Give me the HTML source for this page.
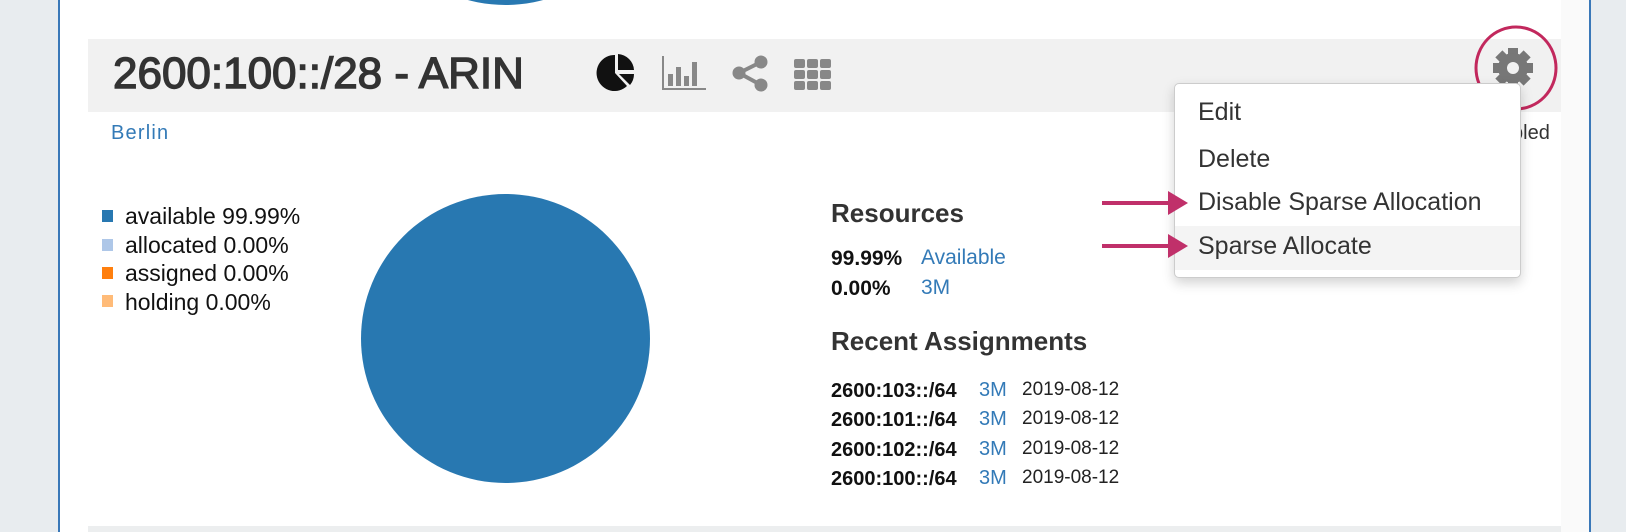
<!DOCTYPE html>
<html><head><meta charset="utf-8"><style>
*{margin:0;padding:0;box-sizing:border-box}
body{width:1626px;height:532px;overflow:hidden;background:#e8ecef;font-family:"Liberation Sans",Arial,sans-serif;position:relative}
.a{position:absolute;white-space:nowrap}
.blue{color:#337ab7}
</style></head><body>
<div class="a" style="left:58px;top:0;width:1533px;height:532px;background:#fff;border-left:2px solid #3a78b8;border-right:2px solid #3a78b8"></div>
<div class="a" style="left:88px;top:0;width:1473px;height:526px;background:#fff"></div>
<div class="a" style="left:88px;top:526px;width:1473px;height:6px;background:#eceeef"></div>
<div class="a" style="left:1561px;top:0;width:28px;height:532px;background:#fafafa"></div>
<div class="a" style="left:361px;top:-284px;width:289px;height:289px;border-radius:50%;background:#2878b1"></div>
<div class="a" style="left:88px;top:39px;width:1473px;height:73px;background:#f1f1f1"></div>
<div class="a" style="left:113px;top:47px;line-height:54px;font-size:44px;color:#333;-webkit-text-stroke:1.4px #333">2600:100::/28 - ARIN</div>
<svg class="a" style="left:596px;top:52px" width="240" height="42" viewBox="0 0 240 42">
 <path d="M19 3 A18 18 0 1 0 31 34 L19 21 Z" fill="#111"/>
 <path d="M22 2 A17 17 0 0 1 38 18 L22 18 Z" fill="#111"/>
 <path d="M23 22 L38 22 A17 17 0 0 1 34 33 Z" fill="#111"/>
 <g fill="#888"><rect x="66" y="4" width="2" height="34"/><rect x="66" y="36" width="44" height="2"/>
 <rect x="72" y="22" width="5" height="12"/><rect x="80" y="15" width="5" height="19"/><rect x="88" y="24" width="5" height="10"/><rect x="96" y="10" width="5" height="24"/></g>
 <g fill="#888" stroke="#888"><circle cx="165" cy="10" r="6"/><circle cx="143" cy="21" r="6"/><circle cx="165" cy="33" r="6"/><line x1="143" y1="21" x2="165" y2="10" stroke-width="4"/><line x1="143" y1="21" x2="165" y2="33" stroke-width="4"/></g>
 <g fill="#888"><rect x="198" y="7" width="11" height="9" rx="2"/><rect x="211" y="7" width="11" height="9" rx="2"/><rect x="224" y="7" width="11" height="9" rx="2"/>
 <rect x="198" y="18" width="11" height="9" rx="2"/><rect x="211" y="18" width="11" height="9" rx="2"/><rect x="224" y="18" width="11" height="9" rx="2"/>
 <rect x="198" y="29" width="11" height="9" rx="2"/><rect x="211" y="29" width="11" height="9" rx="2"/><rect x="224" y="29" width="11" height="9" rx="2"/></g>
</svg>
<svg class="a" style="left:1470px;top:22px" width="95" height="95" viewBox="0 0 95 95">
 <g transform="translate(43,46)" fill="#777">
  <rect x="-5" y="-20" width="10" height="40"/>
  <rect x="-5" y="-20" width="10" height="40" transform="rotate(45)"/>
  <rect x="-5" y="-20" width="10" height="40" transform="rotate(90)"/>
  <rect x="-5" y="-20" width="10" height="40" transform="rotate(135)"/>
  <circle r="15"/><circle r="6" fill="#f1f1f1"/>
 </g>
 <ellipse cx="46" cy="46" rx="40" ry="41" fill="none" stroke="#c2285d" stroke-width="3"/>
</svg>
<div class="a" style="left:1512px;top:122px;font-size:20px;color:#333">bled</div>
<div class="a blue" style="left:111px;top:122px;font-size:20px;letter-spacing:1.2px">Berlin</div>
<div class="a" style="left:1174px;top:83px;width:347px;height:195px;background:#fff;border:1px solid #ccc;border-radius:5px;box-shadow:0 5px 12px rgba(0,0,0,0.18)"></div>
<div class="a" style="left:1175px;top:226px;width:345px;height:44px;background:#f4f4f4"></div>
<div class="a" style="left:1198px;top:98px;font-size:25px;color:#333">Edit</div>
<div class="a" style="left:1198px;top:145px;font-size:25px;color:#333">Delete</div>
<div class="a" style="left:1198px;top:188px;font-size:25px;color:#333">Disable Sparse Allocation</div>
<div class="a" style="left:1198px;top:232px;font-size:25px;color:#333">Sparse Allocate</div>
<svg class="a" style="left:1100px;top:185px" width="92" height="80">
 <g fill="#c0306a"><rect x="2" y="16" width="70" height="4"/><polygon points="68,6 88,18 68,30"/>
 <rect x="2" y="59" width="70" height="4"/><polygon points="68,49 88,61 68,73"/></g>
</svg>
<div class="a" style="left:102px;top:210px;width:11px;height:12px;background:#2878b1"></div>
<div class="a" style="left:102px;top:239px;width:11px;height:12px;background:#aec7e8"></div>
<div class="a" style="left:102px;top:267px;width:11px;height:12px;background:#ff7f0e"></div>
<div class="a" style="left:102px;top:295px;width:11px;height:12px;background:#ffbb78"></div>
<div class="a" style="left:125px;top:202px;font-size:23px;color:#111;line-height:28.5px">available 99.99%<br>allocated 0.00%<br>assigned 0.00%<br>holding 0.00%</div>
<div class="a" style="left:361px;top:194px;width:289px;height:289px;border-radius:50%;background:#2878b1"></div>
<div class="a" style="left:831px;top:198px;font-size:26px;font-weight:bold;color:#333">Resources</div>
<div class="a" style="left:831px;top:247px;font-size:21px;font-weight:bold;color:#111">99.99%</div>
<div class="a blue" style="left:921px;top:246px;font-size:21px">Available</div>
<div class="a" style="left:831px;top:277px;font-size:21px;font-weight:bold;color:#111">0.00%</div>
<div class="a blue" style="left:921px;top:276px;font-size:21px">3M</div>
<div class="a" style="left:831px;top:326px;font-size:26px;font-weight:bold;color:#333">Recent Assignments</div>
<div class="a" style="left:831px;top:377px;font-size:20px;font-weight:bold;color:#111;line-height:29.3px">2600:103::/64<br>2600:101::/64<br>2600:102::/64<br>2600:100::/64</div>
<div class="a blue" style="left:979px;top:376px;font-size:20px;line-height:29.3px">3M<br>3M<br>3M<br>3M</div>
<div class="a" style="left:1022px;top:375px;font-size:19px;color:#222;line-height:29.3px">2019-08-12<br>2019-08-12<br>2019-08-12<br>2019-08-12</div>
</body></html>
